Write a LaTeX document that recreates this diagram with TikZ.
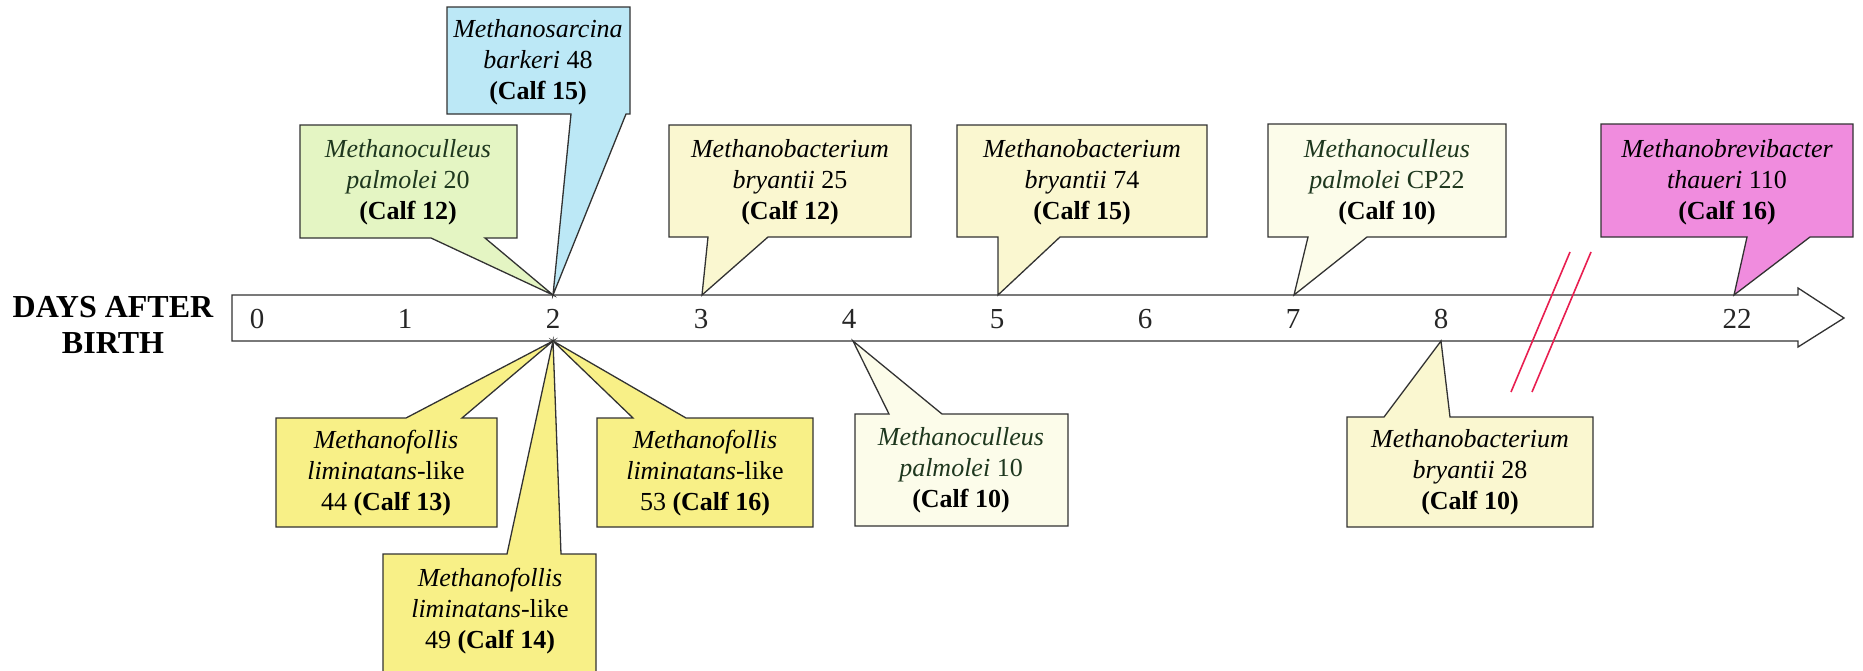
\documentclass[tikz,border=0pt]{standalone}
\usepackage{fontspec}
\setmainfont{LiberationSerif}[Extension=.ttf, UprightFont=*-Regular, BoldFont=*-Bold, ItalicFont=*-Italic, BoldItalicFont=*-BoldItalic]
\definecolor{cgreen}{RGB}{228,245,195}
\definecolor{cblue}{RGB}{188,232,246}
\definecolor{cpale}{RGB}{250,247,208}
\definecolor{ccream}{RGB}{252,252,234}
\definecolor{cmag}{RGB}{240,140,222}
\definecolor{cyel}{RGB}{248,240,135}
\definecolor{cred}{RGB}{232,30,80}
\definecolor{tgreen}{RGB}{30,55,30}
\definecolor{edge}{RGB}{50,50,50}
\begin{document}
\begin{tikzpicture}[x=1pt,y=-1pt,
  callout/.style={draw=edge, line width=1.3pt, line join=miter},
  lbl/.style={align=center, font=\fontsize{26}{31}\selectfont, inner sep=0pt},
  daylbl/.style={font=\fontsize{29}{34}\selectfont, text=black!85, inner sep=0pt},
  brk/.style={draw=cred, line width=1.6pt}]
\useasboundingbox (0,0) rectangle (1863,670);
% timeline arrow
\filldraw[callout, fill=white] (232,295) -- (1798,295) -- (1798,288) -- (1844,318) -- (1798,347) -- (1798,341) -- (232,341) -- cycle;
\node[align=center, font=\fontsize{32}{36}\selectfont\bfseries, inner sep=0pt] (title) at (113,325) {DAYS AFTER\\BIRTH};
% tips
\coordinate (t2) at (553,295);
\coordinate (b2) at (553,341);
\coordinate (t3) at (702,295);
\coordinate (b4) at (853,341);
\coordinate (t5) at (998,295);
\coordinate (t7) at (1294,295);
\coordinate (b8) at (1441,341);
\coordinate (t22) at (1734,295);
% day labels
\node[daylbl] (d0) at (257,319) {0};
\node[daylbl] (d1) at (405,319) {1};
\node[daylbl] (d2) at (553,319) {2};
\node[daylbl] (d3) at (701,319) {3};
\node[daylbl] (d4) at (849,319) {4};
\node[daylbl] (d5) at (997,319) {5};
\node[daylbl] (d6) at (1145,319) {6};
\node[daylbl] (d7) at (1293,319) {7};
\node[daylbl] (d8) at (1441,319) {8};
\node[daylbl] (d22) at (1737,319) {22};
% top callouts
\filldraw[callout, fill=cgreen] (300,125) -- (517,125) -- (517,238) -- (485,238) -- (t2) -- (431,238) -- (300,238) -- cycle;
\filldraw[callout, fill=cblue] (447,7) -- (630,7) -- (630,114) -- (626,114) -- (t2) -- (571,114) -- (447,114) -- cycle;
\filldraw[callout, fill=cpale] (669,125) -- (911,125) -- (911,237) -- (768,237) -- (t3) -- (708,237) -- (669,237) -- cycle;
\filldraw[callout, fill=cpale] (957,125) -- (1207,125) -- (1207,237) -- (1060,237) -- (t5) -- (998,237) -- (957,237) -- cycle;
\filldraw[callout, fill=ccream] (1268,124) -- (1506,124) -- (1506,237) -- (1367,237) -- (t7) -- (1308,237) -- (1268,237) -- cycle;
\filldraw[callout, fill=cmag] (1601,124) -- (1853,124) -- (1853,237) -- (1810,237) -- (t22) -- (1747,237) -- (1601,237) -- cycle;
% bottom callouts
\filldraw[callout, fill=cyel] (276,418) -- (406,418) -- (b2) -- (462,418) -- (497,418) -- (497,527) -- (276,527) -- cycle;
\filldraw[callout, fill=cyel] (597,418) -- (633,418) -- (b2) -- (686,418) -- (813,418) -- (813,527) -- (597,527) -- cycle;
\filldraw[callout, fill=cyel] (383,554) -- (507,554) -- (b2) -- (561,554) -- (596,554) -- (596,672) -- (383,672) -- cycle;
\filldraw[callout, fill=ccream] (855,414) -- (889,414) -- (b4) -- (942,414) -- (1068,414) -- (1068,526) -- (855,526) -- cycle;
\filldraw[callout, fill=cpale] (1347,417) -- (1384,417) -- (b8) -- (1450,417) -- (1593,417) -- (1593,527) -- (1347,527) -- cycle;
% texts
\node[lbl, text=tgreen] (n20) at (408,182) {\textit{Methanoculleus}\\\textit{palmolei} 20\\\textcolor{black}{\textbf{(Calf 12)}}};
\node[lbl] (n48) at (538,62) {\textit{Methanosarcina}\\\textit{barkeri} 48\\\textbf{(Calf 15)}};
\node[lbl] (n25) at (790,182) {\textit{Methanobacterium}\\\textit{bryantii} 25\\\textbf{(Calf 12)}};
\node[lbl] (n74) at (1082,182) {\textit{Methanobacterium}\\\textit{bryantii} 74\\\textbf{(Calf 15)}};
\node[lbl, text=tgreen] (ncp22) at (1387,182) {\textit{Methanoculleus}\\\textit{palmolei} CP22\\\textcolor{black}{\textbf{(Calf 10)}}};
\node[lbl] (n110) at (1727,182) {\textit{Methanobrevibacter}\\\textit{thaueri} 110\\\textbf{(Calf 16)}};
\node[lbl] (n44) at (386,473) {\textit{Methanofollis}\\\textit{liminatans}-like\\44 \textbf{(Calf 13)}};
\node[lbl] (n53) at (705,473) {\textit{Methanofollis}\\\textit{liminatans}-like\\53 \textbf{(Calf 16)}};
\node[lbl] (n49) at (490,611) {\textit{Methanofollis}\\\textit{liminatans}-like\\49 \textbf{(Calf 14)}};
\node[lbl, text=tgreen] (n10) at (961,470) {\textit{Methanoculleus}\\\textit{palmolei} 10\\\textcolor{black}{\textbf{(Calf 10)}}};
\node[lbl] (n28) at (1470,472) {\textit{Methanobacterium}\\\textit{bryantii} 28\\\textbf{(Calf 10)}};
% axis break
\coordinate (r1a) at (1570,252);
\coordinate (r1b) at (1511,392);
\coordinate (r2a) at (1591,252);
\coordinate (r2b) at (1532,392);
\draw[brk] (r1a) -- (r1b);
\draw[brk] (r2a) -- (r2b);
\end{tikzpicture}
\end{document}
